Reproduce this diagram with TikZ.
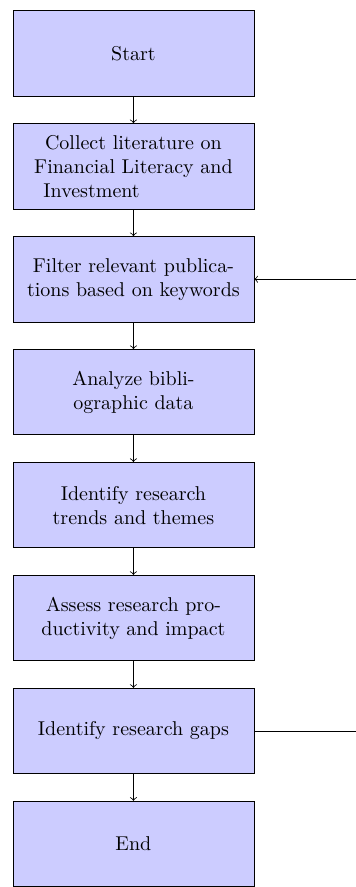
\documentclass[tikz,border=0pt]{standalone}
\usetikzlibrary{positioning}
\tikzset{
  stepbox/.style={rectangle, draw, fill=blue!20, text width=4cm, text centered, minimum height=1.5cm},
  line/.style={draw, ->}
}
\begin{document}
\begin{tikzpicture}[node distance=0.47cm]
      \node[stepbox] (start) {Start};
      \node[stepbox, below=of start] (collect) {Collect literature on\\ Financial Literacy and\\ \makebox[4cm][l]{\hspace{0.42cm}Investment}};
      \node[stepbox, below=of collect] (filter) {Filter relevant publications based on keywords};
      \node[stepbox, below=of filter] (analyze) {Analyze bibliographic data};
      \node[stepbox, below=of analyze] (trends) {Identify research trends and themes};
      \node[stepbox, below=of trends] (assess) {Assess research productivity and impact};
      \node[stepbox, below=of assess] (gaps) {Identify research gaps};
      \node[stepbox, below=of gaps] (end) {End};
      \useasboundingbox ([xshift=-0.22cm, yshift=0.18cm]start.north west) rectangle ([xshift=6.03cm, yshift=-1.42cm]end.north west);
      \begin{scope}[line]
        \draw (start) -- (collect);
        \draw (collect) -- (filter);
        \draw (filter) -- (analyze);
        \draw (analyze) -- (trends);
        \draw (trends) -- (assess);
        \draw (assess) -- (gaps);
        \draw (gaps) -- (end);
        \draw (gaps.east) -- ++(2.5,0) |- (filter.east);
      \end{scope}
    \end{tikzpicture}
\end{document}
